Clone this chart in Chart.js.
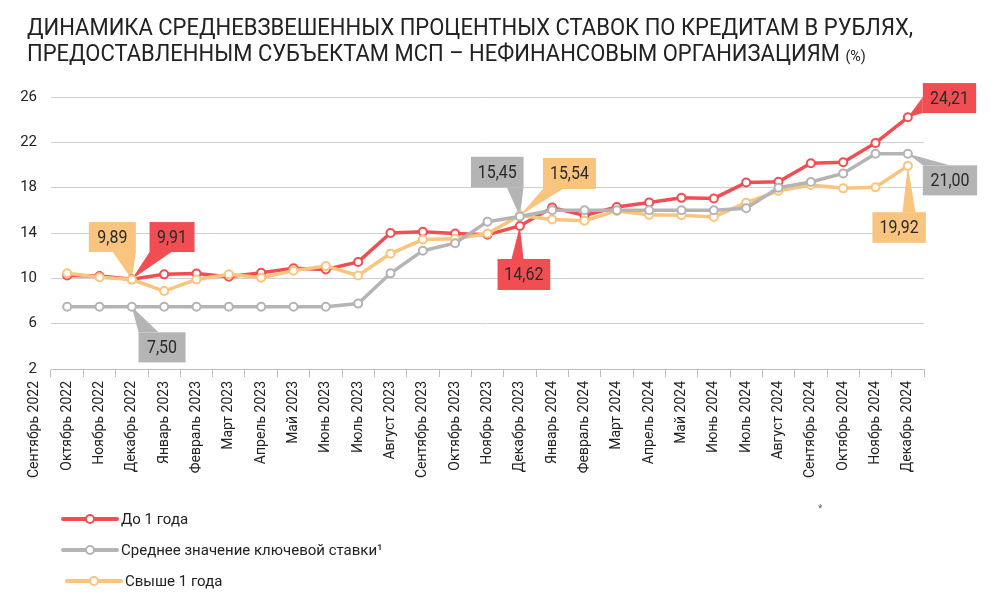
<!DOCTYPE html>
<html><head><meta charset="utf-8">
<script src="https://cdn.jsdelivr.net/npm/chart.js@4"></script>
<style>
html,body{margin:0;padding:0;background:#fff;}
#wrap{position:relative;width:994px;height:602px;overflow:hidden;}
#chart{position:absolute;left:0;top:0;}
#title{position:absolute;left:27px;top:15px;font-family:Roboto,sans-serif;font-size:23px;line-height:26px;color:#222;white-space:nowrap;transform-origin:0 0;}
#title .u{font-size:15px;}
</style></head><body>
<div id="wrap"><canvas id="chart" width="994" height="602"></canvas>
<div id="title"><span id="l1">ДИНАМИКА СРЕДНЕВЗВЕШЕННЫХ ПРОЦЕНТНЫХ СТАВОК ПО КРЕДИТАМ В РУБЛЯХ,</span><br>ПРЕДОСТАВЛЕННЫМ СУБЪЕКТАМ МСП – НЕФИНАНСОВЫМ ОРГАНИЗАЦИЯМ <span class="u">(%)</span></div></div>
<script>
const leadLabel = 'Сентябрь 2022';
const months = ['Октябрь 2022','Ноябрь 2022','Декабрь 2022','Январь 2023','Февраль 2023','Март 2023','Апрель 2023','Май 2023','Июнь 2023','Июль 2023','Август 2023','Сентябрь 2023','Октябрь 2023','Ноябрь 2023','Декабрь 2023','Январь 2024','Февраль 2024','Март 2024','Апрель 2024','Май 2024','Июнь 2024','Июль 2024','Август 2024','Сентябрь 2024','Октябрь 2024','Ноябрь 2024','Декабрь 2024'];
const upTo1Year = [10.25,10.2,9.91,10.35,10.42,10.15,10.5,10.88,10.78,11.45,14.0,14.1,13.95,13.85,14.62,16.25,15.55,16.3,16.7,17.1,17.05,18.45,18.52,20.15,20.25,21.95,24.21];
const keyRateAvg = [7.5,7.5,7.5,7.5,7.5,7.5,7.5,7.5,7.5,7.77,10.44,12.44,13.1,15.0,15.45,16,16,16,16,16,16,16.19,18,18.5,19.26,21,21];
const over1Year = [10.45,10.1,9.89,8.88,9.9,10.36,10.05,10.68,11.08,10.25,12.18,13.42,13.5,13.95,15.54,15.2,15.08,15.95,15.6,15.56,15.42,16.68,17.72,18.24,17.94,18.03,19.92];
const seriesNames = ['До 1 года','Среднее значение ключевой ставки¹','Свыше 1 года'];
const yTicks = [2,6,10,14,18,22,26];

const RED='#F04E52', GRAY='#B4B4B4', ORANGE='#F8C47E';

// condense title to reference width
(function(){
  const l1=document.getElementById('l1'); const t=document.getElementById('title');
  const w=l1.getBoundingClientRect().width; const target=886;
  t.style.transform='scaleX('+(target/w).toFixed(4)+')';
})();

const callouts = [
  {ds:2,i:2,box:[-43,-57.5,47,30],base:[[24,30],[47,30]]},
  {ds:0,i:2,box:[17.7,-57.3,45,30],base:[[0,30],[22,30]]},
  {ds:1,i:2,box:[6.7,25.7,47,30],base:[[0,0],[20,0]]},
  {ds:1,i:14,box:[-48.9,-59.8,52.6,30.7],base:[[36,30.7],[52.6,30.7]]},
  {ds:2,i:14,box:[23.1,-57.5,53,31],base:[[0,31],[20,31]]},
  {ds:0,i:14,box:[-22.3,33,52.7,31],base:[[14,0],[26,0]]},
  {ds:0,i:26,box:[15,-34.2,53.3,30],base:[[0,14],[0,30]]},
  {ds:1,i:26,box:[15,11.7,54.3,30],base:[[0,0],[27,0]]},
  {ds:2,i:26,box:[-35.4,46.3,53.4,30.6],base:[[30,0],[43,0]]}
];

const calloutPlugin = {
  id:'callouts',
  beforeDatasetsDraw(chart){
    const ctx=chart.ctx;
    callouts.forEach(c=>{
      const ds=chart.data.datasets[c.ds];
      const v=ds.data[c.i];
      const px=chart.scales.x.getPixelForValue(c.i);
      const py=chart.scales.y.getPixelForValue(v);
      const bx=px+c.box[0], by=py+c.box[1], bw=c.box[2], bh=c.box[3];
      ctx.save();
      ctx.fillStyle=ds.borderColor;
      ctx.beginPath();
      ctx.moveTo(bx+c.base[0][0],by+c.base[0][1]);
      ctx.lineTo(bx+c.base[1][0],by+c.base[1][1]);
      ctx.lineTo(px,py);
      ctx.closePath(); ctx.fill();
      ctx.fillRect(bx,by,bw,bh);
      ctx.fillStyle='#2a2a2a';
      ctx.font='19px Roboto';
      ctx.textAlign='center'; ctx.textBaseline='middle';
      ctx.translate(bx+bw/2,by+bh/2+1);
      ctx.scale(0.84,1);
      ctx.fillText(v.toFixed(2).replace('.',','),0,0);
      ctx.restore();
    });
  }
};

const extrasPlugin = {
  id:'extras',
  afterDraw(chart){
    const ctx=chart.ctx, xs=chart.scales.x;
    const step=xs.getPixelForValue(1)-xs.getPixelForValue(0);
    ctx.save();
    ctx.translate(xs.getPixelForValue(0)-step, xs.top+8+4);
    ctx.rotate(-Math.PI/2);
    ctx.textAlign='right'; ctx.textBaseline='middle';
    ctx.font='14px Roboto'; ctx.fillStyle='#222';
    ctx.fillText(leadLabel,0,0);
    ctx.restore();
    // legend
    const rows=[519,550,581], shift=[0,0,4];
    chart.data.datasets.forEach((ds,k)=>{
      const y=rows[k], s=shift[k];
      ctx.save();
      ctx.strokeStyle=ds.borderColor; ctx.lineWidth=4; ctx.lineCap='round';
      ctx.beginPath(); ctx.moveTo(63+s,y); ctx.lineTo(117+s,y); ctx.stroke();
      ctx.beginPath(); ctx.arc(90+s,y,4,0,Math.PI*2);
      ctx.fillStyle='#fff'; ctx.fill(); ctx.lineWidth=2; ctx.stroke();
      ctx.fillStyle='#222'; ctx.font='15px Roboto';
      ctx.textAlign='left'; ctx.textBaseline='middle';
      ctx.fillText(ds.label,121+s,y+1);
      ctx.restore();
    });
    ctx.save(); ctx.fillStyle='#666'; ctx.font='10px Roboto'; ctx.fillText('*',818,512); ctx.restore();
  }
};

function mk(label,data,color,order){
  return {label,data,borderColor:color,backgroundColor:'#fff',borderWidth:3.5,
    pointRadius:4,pointHoverRadius:4,pointBorderWidth:2,pointBackgroundColor:'#fff',pointBorderColor:color,
    tension:0,order};
}

new Chart(document.getElementById('chart'),{
  type:'line',
  data:{labels:months,datasets:[
    mk(seriesNames[0],upTo1Year,RED,3),
    mk(seriesNames[1],keyRateAvg,GRAY,1),
    mk(seriesNames[2],over1Year,ORANGE,2)
  ]},
  options:{
    responsive:false, animation:false,
    layout:{padding:{top:97,right:70,bottom:0,left:0}},
    plugins:{legend:{display:false},title:{display:false},tooltip:{enabled:false}},
    scales:{
      x:{type:'category',offset:true,
        grid:{display:true,drawOnChartArea:false,drawTicks:true,tickLength:8,offset:true,color:'#bdbdbd'},
        border:{display:true,color:'#bdbdbd'},
        ticks:{autoSkip:false,maxRotation:90,minRotation:90,padding:4,color:'#222',font:{family:'Roboto',size:14}},
        afterFit(s){s.height=233;}
      },
      y:{min:2,max:26,
        afterBuildTicks(s){s.ticks=yTicks.map(v=>({value:v}));},
        ticks:{padding:14,color:'#222',font:{family:'Roboto',size:15}},
        grid:{color:'#cfcfcf',drawTicks:false},border:{display:false},
        afterFit(s){s.width=51;}
      }
    }
  },
  plugins:[calloutPlugin,extrasPlugin]
});
</script>
</body></html>
